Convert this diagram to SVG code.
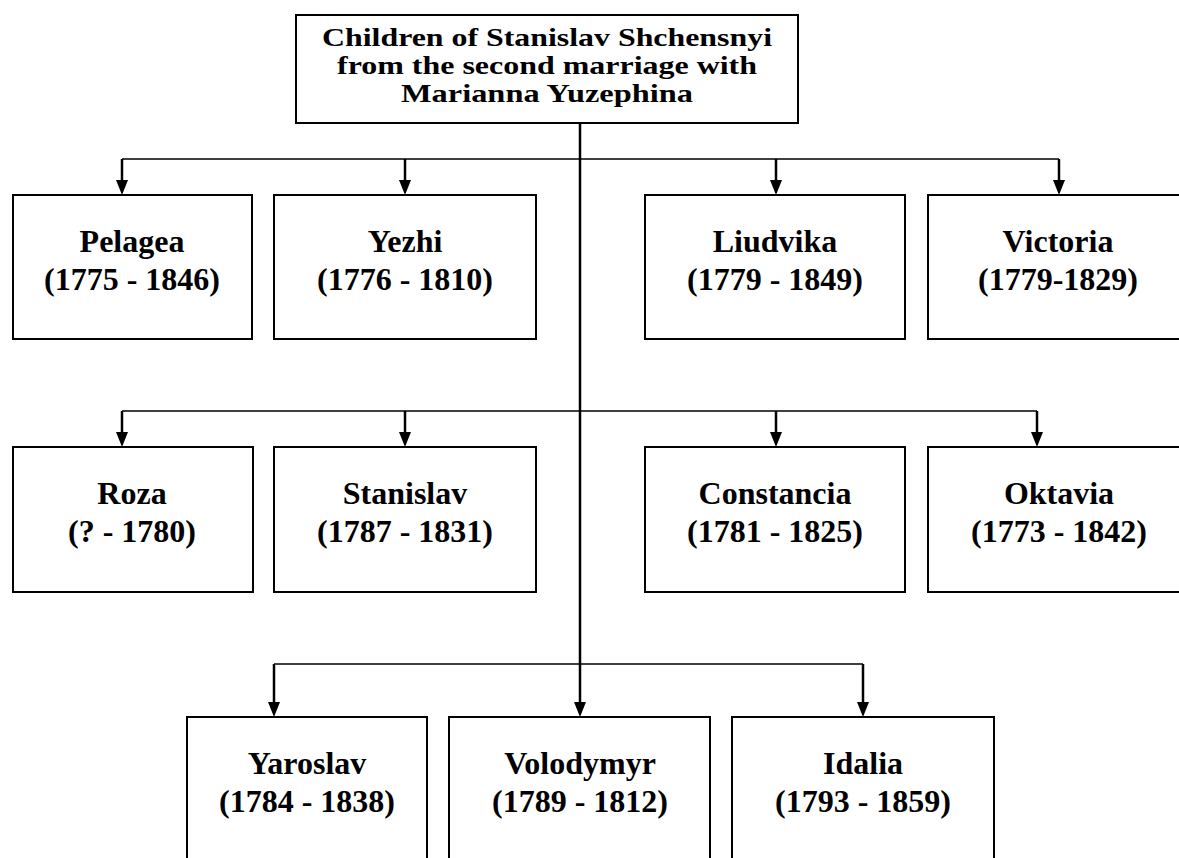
<svg xmlns="http://www.w3.org/2000/svg" width="1179" height="858" viewBox="0 0 1179 858">
<style>
.box{fill:#fff;stroke:#000;stroke-width:2}
.t{font-family:"Liberation Serif","Times New Roman",serif;font-weight:bold;font-size:32px;fill:#000;text-anchor:middle}
.tt{font-family:"Liberation Serif","Times New Roman",serif;font-weight:bold;font-size:25px;fill:#000;text-anchor:middle}
.h{stroke:#000;stroke-width:1.7;fill:none}
.v{stroke:#000;stroke-width:2.5;fill:none}
.ah{fill:#000}
</style>
<rect width="1179" height="858" fill="#fff"/>
<g id="connectors">
<line class="v" x1="580" y1="123" x2="580" y2="704"/>
<line class="h" x1="122" y1="159" x2="1059" y2="159"/>
<line class="v" x1="122" y1="159" x2="122" y2="182"/>
<line class="v" x1="405" y1="159" x2="405" y2="182"/>
<line class="v" x1="776" y1="159" x2="776" y2="182"/>
<line class="v" x1="1059" y1="159" x2="1059" y2="182"/>
<polygon class="ah" points="116,180 128,180 122,195"/>
<polygon class="ah" points="399,180 411,180 405,195"/>
<polygon class="ah" points="770,180 782,180 776,195"/>
<polygon class="ah" points="1053,180 1065,180 1059,195"/>
<line class="h" x1="122" y1="411" x2="1037" y2="411"/>
<line class="v" x1="122" y1="411" x2="122" y2="434"/>
<line class="v" x1="405" y1="411" x2="405" y2="434"/>
<line class="v" x1="776" y1="411" x2="776" y2="434"/>
<line class="v" x1="1037" y1="411" x2="1037" y2="434"/>
<polygon class="ah" points="116,432 128,432 122,447"/>
<polygon class="ah" points="399,432 411,432 405,447"/>
<polygon class="ah" points="770,432 782,432 776,447"/>
<polygon class="ah" points="1031,432 1043,432 1037,447"/>
<line class="h" x1="274" y1="664" x2="863" y2="664"/>
<line class="v" x1="274" y1="664" x2="274" y2="704"/>
<line class="v" x1="863" y1="664" x2="863" y2="704"/>
<polygon class="ah" points="268,702 280,702 274,717"/>
<polygon class="ah" points="574,702 586,702 580,717"/>
<polygon class="ah" points="857,702 869,702 863,717"/>
</g>
<g id="root">
<rect class="box" x="296" y="15" width="502" height="108"/>
<text class="tt" x="547" y="46" textLength="450" lengthAdjust="spacingAndGlyphs">Children of Stanislav Shchensnyi</text>
<text class="tt" x="547" y="74" textLength="420" lengthAdjust="spacingAndGlyphs">from the second marriage with</text>
<text class="tt" x="547" y="102" textLength="292" lengthAdjust="spacingAndGlyphs">Marianna Yuzephina</text>
</g>
<g id="pelagea">
<rect class="box" x="13" y="195" width="239" height="144"/>
<text class="t" x="132" y="252">Pelagea</text>
<text class="t" x="132" y="290">(1775 - 1846)</text>
</g>
<g id="yezhi">
<rect class="box" x="274" y="195" width="262" height="144"/>
<text class="t" x="405" y="252">Yezhi</text>
<text class="t" x="405" y="290">(1776 - 1810)</text>
</g>
<g id="liudvika">
<rect class="box" x="645" y="195" width="260" height="144"/>
<text class="t" x="775" y="252">Liudvika</text>
<text class="t" x="775" y="290">(1779 - 1849)</text>
</g>
<g id="victoria">
<rect class="box" x="928" y="195" width="262" height="144"/>
<text class="t" x="1058" y="252">Victoria</text>
<text class="t" x="1058" y="290">(1779-1829)</text>
</g>
<g id="roza">
<rect class="box" x="13" y="447" width="240" height="145"/>
<text class="t" x="132" y="504">Roza</text>
<text class="t" x="132" y="542">(? - 1780)</text>
</g>
<g id="stanislav">
<rect class="box" x="274" y="447" width="262" height="145"/>
<text class="t" x="405" y="504">Stanislav</text>
<text class="t" x="405" y="542">(1787 - 1831)</text>
</g>
<g id="constancia">
<rect class="box" x="645" y="447" width="260" height="145"/>
<text class="t" x="775" y="504">Constancia</text>
<text class="t" x="775" y="542">(1781 - 1825)</text>
</g>
<g id="oktavia">
<rect class="box" x="928" y="447" width="262" height="145"/>
<text class="t" x="1059" y="504">Oktavia</text>
<text class="t" x="1059" y="542">(1773 - 1842)</text>
</g>
<g id="yaroslav">
<rect class="box" x="187" y="717" width="240" height="160"/>
<text class="t" x="307" y="774">Yaroslav</text>
<text class="t" x="307" y="812">(1784 - 1838)</text>
</g>
<g id="volodymyr">
<rect class="box" x="449" y="717" width="261" height="160"/>
<text class="t" x="580" y="774">Volodymyr</text>
<text class="t" x="580" y="812">(1789 - 1812)</text>
</g>
<g id="idalia">
<rect class="box" x="732" y="717" width="262" height="160"/>
<text class="t" x="863" y="774">Idalia</text>
<text class="t" x="863" y="812">(1793 - 1859)</text>
</g>
</svg>
